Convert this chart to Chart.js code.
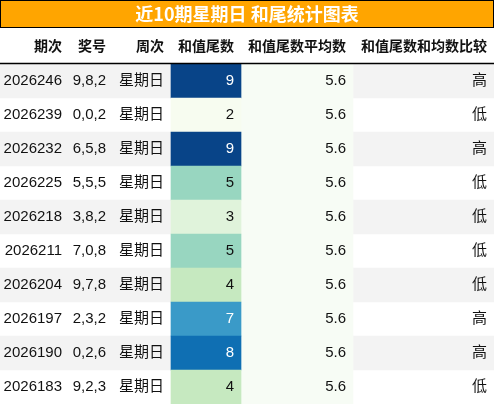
<!DOCTYPE html>
<html><head><meta charset="utf-8">
<script src="https://cdn.jsdelivr.net/npm/chart.js"></script>
<style>html,body{margin:0;padding:0;background:#fff}#w{width:494px;height:405px}</style>
</head><body><div id="w"><canvas id="c"></canvas></div>
<script>
const title = "近10期星期日 和尾统计图表";
const headers = ["期次","奖号","周次","和值尾数","和值尾数平均数","和值尾数和均数比较"];
const periods = ["2026246","2026239","2026232","2026225","2026218","2026211","2026204","2026197","2026190","2026183"];
const numbers = ["9,8,2","0,0,2","6,5,8","5,5,5","3,8,2","7,0,8","9,7,8","2,3,2","0,2,6","9,2,3"];
const weekday = ["星期日","星期日","星期日","星期日","星期日","星期日","星期日","星期日","星期日","星期日"];
const tails = [9,2,9,5,3,5,4,7,8,4];
const avg = [5.6,5.6,5.6,5.6,5.6,5.6,5.6,5.6,5.6,5.6];
const compare = ["高","低","高","低","低","低","低","高","高","低"];

const colEdges = [0,69,113,171,241,353,494];
const gnbu = ["#f7fcf0","#f7fcf0","#f7fcf0","#e0f3db","#c6e9c0","#98d6c0","#7bccc4","#3a9ac8","#0f6fb3","#084488"];
const FONT = "'Liberation Sans','Noto Sans CJK SC',sans-serif";

const span = (a,b)=>periods.map(()=>[colEdges[a],colEdges[b]]);
const tablePlugin = {
  id:'table',
  beforeDatasetsDraw(chart){
    const ctx=chart.ctx;
    ctx.save();
    ctx.fillStyle="#FFA500";ctx.fillRect(0,0,494,27);
    ctx.strokeStyle="#000";ctx.lineWidth=1;ctx.strokeRect(0.5,0.5,493,27);
    ctx.fillStyle="#fff";ctx.font="bold 18px 'Noto Sans CJK SC',sans-serif";
    ctx.textAlign="center";ctx.textBaseline="middle";ctx.fillText(title,247,14.5);
    ctx.restore();
  },
  afterDatasetsDraw(chart){
    const ctx=chart.ctx, y=chart.scales.y;
    ctx.save();
    ctx.textAlign="right";ctx.textBaseline="middle";
    ctx.fillStyle="#111";ctx.font="bold 14px 'Noto Sans CJK SC',sans-serif";
    headers.forEach((h,i)=>ctx.fillText(h,colEdges[i+1]-7,46));
    ctx.strokeStyle="#000";ctx.lineWidth=1.5;
    ctx.beginPath();ctx.moveTo(0,63.5);ctx.lineTo(494,63.5);ctx.stroke();
    ctx.font="15px "+FONT;
    periods.forEach((p,i)=>{
      const yy=y.getPixelForValue(i);
      const cols=[p,numbers[i],weekday[i],String(tails[i]),avg[i].toFixed(1),compare[i]];
      cols.forEach((t,j)=>{
        ctx.fillStyle=(j===3&&tails[i]>=7)?"#fff":"#111";
        ctx.fillText(t,colEdges[j+1]-7,yy);
      });
    });
    ctx.restore();
  }
};

new Chart(document.getElementById('c'),{
  type:'bar',
  data:{labels:periods,datasets:[
    {data:periods.map((_,i)=>i%2===0?[colEdges[0],colEdges[6]]:null),backgroundColor:"#f3f3f3",order:3},
    {data:span(4,5),backgroundColor:"#f7fcf5",order:2},
    {data:span(3,4),backgroundColor:tails.map(t=>gnbu[t]),order:1}
  ]},
  options:{
    indexAxis:'y',responsive:true,maintainAspectRatio:false,animation:false,
    layout:{padding:{top:64,bottom:1,left:0,right:0}},
    datasets:{bar:{grouped:false,barPercentage:1,categoryPercentage:1,borderWidth:0}},
    plugins:{legend:{display:false},tooltip:{enabled:false}},
    scales:{
      x:{type:'linear',min:0,max:494,display:false},
      y:{type:'category',offset:true,display:false}
    }
  },
  plugins:[tablePlugin]
});
</script></body></html>
